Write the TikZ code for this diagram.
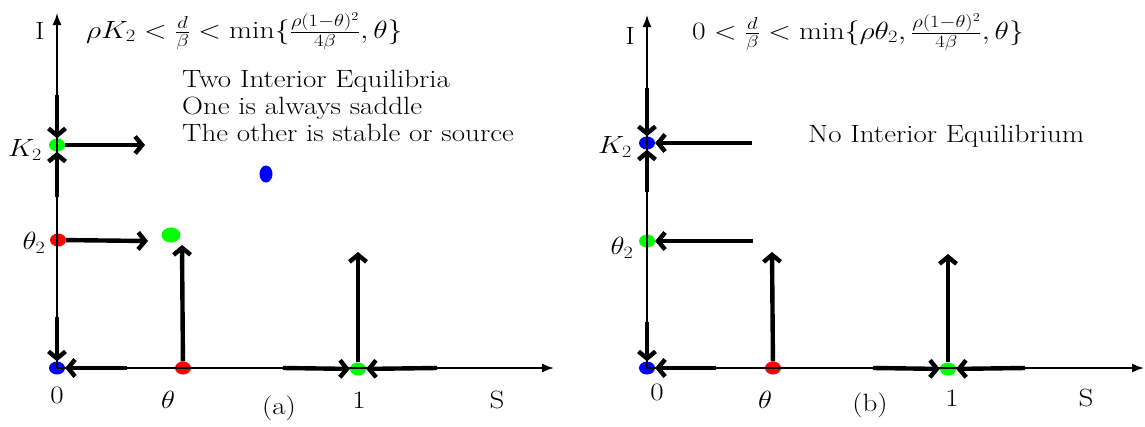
\documentclass[tikz,border=0pt]{standalone}
\usepackage{fontspec}
\usepackage{graphicx}
\usetikzlibrary{arrows.meta,shapes.geometric}
\newcommand\wide[1]{\scalebox{1.16}[1]{#1}}
\newcommand\wider[1]{\scalebox{1.19}[1]{#1}}
\begin{document}
\begin{tikzpicture}[x=1pt,y=-1pt,
  dot/.style={ellipse,inner sep=0pt,minimum width=16pt,minimum height=13pt},
  axis/.style={line width=1.6pt,-{Latex[length=12pt,width=9pt]}},
  flow/.style={line width=4.4pt,-{Straight Barb[length=7pt,width=17pt]}},
  lbl/.style={font=\fontsize{25}{28}\selectfont,inner sep=0pt}]
\useasboundingbox (0,0) rectangle (1145,426);
% ---------------- panel (a)
\coordinate (aItip) at (57,13);
\coordinate (aStip) at (554,368);
\node[dot,fill=blue]  (a0)   at (57,368) {};
\node[dot,fill=red]   (ath)  at (183,368) {};
\node[dot,fill=green] (a1)   at (358,369) {};
\node[dot,fill=red]   (ath2) at (58,240) {};
\node[dot,fill=green] (aK)   at (57,145) {};
\node[dot,fill=blue,minimum width=13pt,minimum height=17pt] (aB) at (266,174) {};
\node[dot,fill=green,minimum width=19pt,minimum height=15pt] (aG) at (171,235) {};
\draw[axis] (a0.center) -- (aItip);
\draw[axis] (a0.center) -- (aStip);
\coordinate (af1) at (57,95);
\coordinate (af2) at (57,197);
\coordinate (af3) at (57,317);
\coordinate (af4) at (145,145);
\coordinate (af5) at (148,241);
\coordinate (af6) at (182,245);
\coordinate (af7) at (358,252);
\coordinate (af8) at (127,368);
\coordinate (af9) at (283,368);
\coordinate (af10) at (437,368);
\draw[flow] (af1) -- (aK);
\draw[flow] (af2) -- (aK);
\draw[flow] (af3) -- (a0);
\draw[flow] (aK) -- (af4);
\draw[flow] (ath2) -- (af5);
\draw[flow] (ath) -- (af6);
\draw[flow] (a1) -- (af7);
\draw[flow] (af8) -- (a0);
\draw[flow] (af9) -- (a1);
\draw[flow] (af10) -- (a1);
\node[lbl] (aI) at (40,31) {\wide{I}};
\node[lbl,anchor=base west] (aT) at (86,38) {\wider{$\rho K_2<\frac{d}{\beta}<\min\{\frac{\rho(1-\theta)^2}{4\beta},\theta\}$}};
\node[lbl,anchor=base west] (aL1) at (182,87) {\wide{Two Interior Equilibria}};
\node[lbl,anchor=base west] (aL2) at (182,114) {\wide{One is always saddle}};
\node[lbl,anchor=base west] (aL3) at (182,141) {\wide{The other is stable or source}};
\node[lbl] (aKl) at (25,150) {\wide{$K_2$}};
\node[lbl] (aTl) at (34,243) {\wide{$\theta_2$}};
\node[lbl] (a0l) at (57,395) {\wide{0}};
\node[lbl] (athl) at (168,400) {\wide{$\theta$}};
\node[lbl] (acap) at (279,408) {\wide{(a)}};
\node[lbl] (a1l) at (359,400) {\wide{1}};
\node[lbl] (aSl) at (497,400) {\wide{S}};
% ---------------- panel (b)
\coordinate (bItip) at (647,15);
\coordinate (bStip) at (1144,368);
\node[dot,fill=blue]  (b0)   at (647,368) {};
\node[dot,fill=red]   (bth)  at (773,368) {};
\node[dot,fill=green] (b1)   at (948,369) {};
\node[dot,fill=green] (bth2) at (647,241) {};
\node[dot,fill=blue]  (bK)   at (647,143) {};
\draw[axis] (b0.center) -- (bItip);
\draw[axis] (b0.center) -- (bStip);
\coordinate (bf1) at (647,88);
\coordinate (bf2) at (647,192);
\coordinate (bf3) at (647,322);
\coordinate (bf4) at (752,143);
\coordinate (bf5) at (753,241);
\coordinate (bf6) at (772,252);
\coordinate (bf7) at (948,254);
\coordinate (bf8) at (716,368);
\coordinate (bf9) at (873,368);
\coordinate (bf10) at (1025,368);
\draw[flow] (bf1) -- (bK);
\draw[flow] (bf2) -- (bK);
\draw[flow] (bf3) -- (b0);
\draw[flow] (bf4) -- (bK);
\draw[flow] (bf5) -- (bth2);
\draw[flow] (bth) -- (bf6);
\draw[flow] (b1) -- (bf7);
\draw[flow] (bf8) -- (b0);
\draw[flow] (bf9) -- (b1);
\draw[flow] (bf10) -- (b1);
\node[lbl] (bI) at (630,36) {\wide{I}};
\node[lbl,anchor=base west] (bT) at (692,39) {\wider{$0<\frac{d}{\beta}<\min\{\rho\theta_2,\frac{\rho(1-\theta)^2}{4\beta},\theta\}$}};
\node[lbl,anchor=base west] (bL1) at (808,142) {\wide{No Interior Equilibrium}};
\node[lbl] (bKl) at (615,147) {\wide{$K_2$}};
\node[lbl] (bTl) at (622,248) {\wide{$\theta_2$}};
\node[lbl] (b0l) at (657,392) {\wide{0}};
\node[lbl] (bthl) at (765,400) {\wide{$\theta$}};
\node[lbl] (bcap) at (870,405) {\wide{(b)}};
\node[lbl] (b1l) at (952,398) {\wide{1}};
\node[lbl] (bSl) at (1086,398) {\wide{S}};
\end{tikzpicture}
\end{document}
